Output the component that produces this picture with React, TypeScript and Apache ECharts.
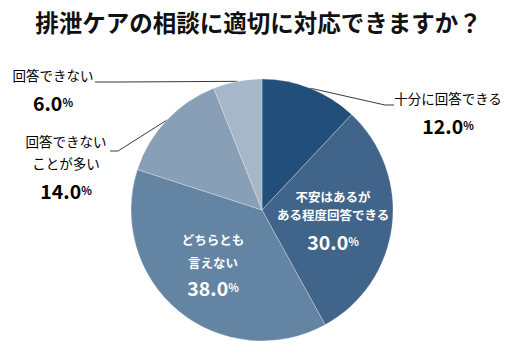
import React, { useEffect, useRef } from "react";
import * as echarts from "echarts";

const categories = [
  "十分に回答できる",
  "不安はあるが\nある程度回答できる",
  "どちらとも\n言えない",
  "回答できない\nことが多い",
  "回答できない",
];
const values = [12.0, 30.0, 38.0, 14.0, 6.0];
const colors = ["#214f79", "#41658a", "#6484a3", "#889fb6", "#a6b7ca"];
const titleText = "排泄ケアの相談に適切に対応できますか？";

const FONT = "'Noto Sans CJK JP', 'Noto Sans', sans-serif";

function richFor(inner: boolean, nameLH: number, pctLH: number) {
  const c = inner ? "#ffffff" : "#000000";
  return {
    n: { fontSize: inner ? 12.5 : 13.5, lineHeight: nameLH, color: c, fontFamily: FONT, fontWeight: inner ? "bold" : "normal" },
    p: { fontSize: 19.5, lineHeight: pctLH, color: c, fontFamily: FONT, fontWeight: "bold" },
    s: { fontSize: 11, lineHeight: pctLH, color: c, fontFamily: FONT, fontWeight: "bold" },
  };
}

// label placement: [x, y, line elbow x, line elbow y, line end x]
const labelPlaces: Record<number, number[]> = {
  0: [448, 114, 385, 105, 394],
  1: [333, 223],
  2: [213, 264],
  3: [66, 168, 118, 151, 110],
  4: [53, 91, 120, 82, 95],
};

export default function App() {
  const ref = useRef<HTMLDivElement>(null);
  useEffect(() => {
    if (!ref.current) return;
    const chart = echarts.init(ref.current, null, { renderer: "svg" });
    const inside = [false, true, true, false, false];
    const lh: number[][] = [
      [22, 32],
      [18, 36],
      [23, 27],
      [22, 32],
      [22, 32],
    ];
    const data = categories.map((name, i) => ({
      name,
      value: values[i],
      itemStyle: { color: colors[i] },
      label: {
        position: inside[i] ? "inside" : "outside",
        rich: richFor(inside[i], lh[i][0], lh[i][1]),
      },
      labelLine: { show: !inside[i] },
    }));
    chart.setOption({
      animation: false,
      backgroundColor: "#ffffff",
      title: {
        text: titleText,
        left: "center",
        top: 5,
        textStyle: { fontFamily: FONT, fontSize: 23.5, fontWeight: "bold", color: "#111" },
      },
      series: [
        {
          type: "pie",
          center: [262, 210],
          radius: [0, 131],
          startAngle: 90,
          clockwise: true,
          data,
          itemStyle: { borderColor: "rgba(255,255,255,0.45)", borderWidth: 0.6 },
          label: {
            show: true,
            align: "center",
            formatter: (p: any) => {
              const lines = String(p.name).split("\n").map((l) => `{n|${l}}`);
              return lines.join("\n") + `\n{p|${Number(p.value).toFixed(1)}}{s|%}`;
            },
          },
          labelLine: {
            show: true,
            lineStyle: { color: "#3a3a3a", width: 1 },
          },
          labelLayout: (params: any) => {
            const pl = labelPlaces[params.dataIndex];
            const res: any = { x: pl[0], y: pl[1], align: "center", verticalAlign: "middle" };
            if (pl.length > 2 && params.labelLinePoints) {
              const start = params.labelLinePoints[0];
              res.labelLinePoints = [start, [pl[2], pl[3]], [pl[4], pl[3]]];
            }
            return res;
          },
        },
      ],
    });
    return () => chart.dispose();
  }, []);
  return (
    <div
      ref={ref}
      style={{ position: "absolute", left: 0, top: 0, width: 517, height: 362 }}
    />
  );
}
